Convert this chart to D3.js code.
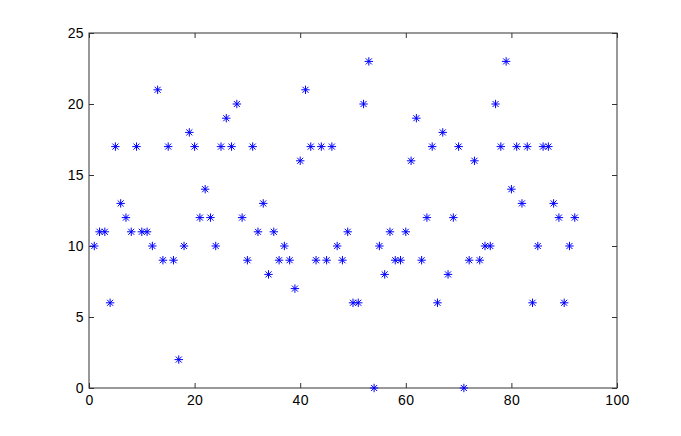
<!DOCTYPE html>
<html>
<head>
<meta charset="utf-8">
<script src="https://cdn.jsdelivr.net/npm/d3@7"></script>
<style>
  body { margin: 0; background: #fff; }
  .axis text { font-family: "Liberation Sans", Arial, sans-serif; font-size: 14px; letter-spacing: 0.4px; fill: #000; }
  .axis path, .axis line { stroke: #333; }
</style>
</head>
<body>
<svg id="chart" width="681" height="436"></svg>
<script>
// values at x = 1..92
const values = [10, 11, 11, 6, 17, 13, 12, 11, 17, 11, 11, 10, 21, 9, 17, 9, 2, 10, 18, 17,
  12, 14, 12, 10, 17, 19, 17, 20, 12, 9, 17, 11, 13, 8, 11, 9, 10, 9, 7, 16,
  21, 17, 9, 17, 9, 17, 10, 9, 11, 6, 6, 20, 23, 0, 10, 8, 11, 9, 9, 11,
  16, 19, 9, 12, 17, 6, 18, 8, 12, 17, 0, 9, 16, 9, 10, 10, 20, 17, 23, 14,
  17, 13, 17, 6, 10, 17, 17, 13, 12, 6, 10, 12];
const xTicks = [0, 20, 40, 60, 80, 100];
const yTicks = [0, 5, 10, 15, 20, 25];

const svg = d3.select('#chart');
const plotL = 89, plotR = 617, plotT = 33, plotB = 388;

const x = d3.scaleLinear().domain([0, 100]).range([plotL, plotR]);
const y = d3.scaleLinear().domain([0, 25]).range([plotB, plotT]);

// box
svg.append('rect')
  .attr('x', plotL).attr('y', plotT)
  .attr('width', plotR - plotL).attr('height', plotB - plotT)
  .attr('fill', 'none').attr('stroke', '#333');

const tick = 5;
svg.append('g').attr('class', 'axis')
  .attr('transform', `translate(0,${plotB})`)
  .call(d3.axisBottom(x).tickValues(xTicks).tickSizeInner(-tick).tickSizeOuter(0).tickPadding(7))
  .call(g => g.select('.domain').remove());
svg.append('g').attr('class', 'axis')
  .attr('transform', `translate(0,${plotT})`)
  .call(d3.axisTop(x).tickValues(xTicks).tickSizeInner(-tick).tickSizeOuter(0).tickFormat(''))
  .call(g => g.select('.domain').remove());
svg.append('g').attr('class', 'axis')
  .attr('transform', `translate(${plotL},0)`)
  .call(d3.axisLeft(y).tickValues(yTicks).tickSizeInner(-tick).tickSizeOuter(0).tickPadding(5))
  .call(g => g.select('.domain').remove());
svg.append('g').attr('class', 'axis')
  .attr('transform', `translate(${plotR},0)`)
  .call(d3.axisRight(y).tickValues(yTicks).tickSizeInner(-tick).tickSizeOuter(0).tickFormat(''))
  .call(g => g.select('.domain').remove());

// asterisk markers
const r = 4.2, d = r * 0.72;
const star = `M${-r},0H${r}M0,${-r}V${r}M${-d},${-d}L${d},${d}M${-d},${d}L${d},${-d}`;
svg.append('g')
  .selectAll('path')
  .data(values)
  .join('path')
  .attr('transform', (v, i) => `translate(${x(i + 1)},${y(v)})`)
  .attr('d', star)
  .attr('fill', 'none')
  .attr('stroke', '#0000ff')
  .attr('stroke-width', 1);
</script>
</body>
</html>
